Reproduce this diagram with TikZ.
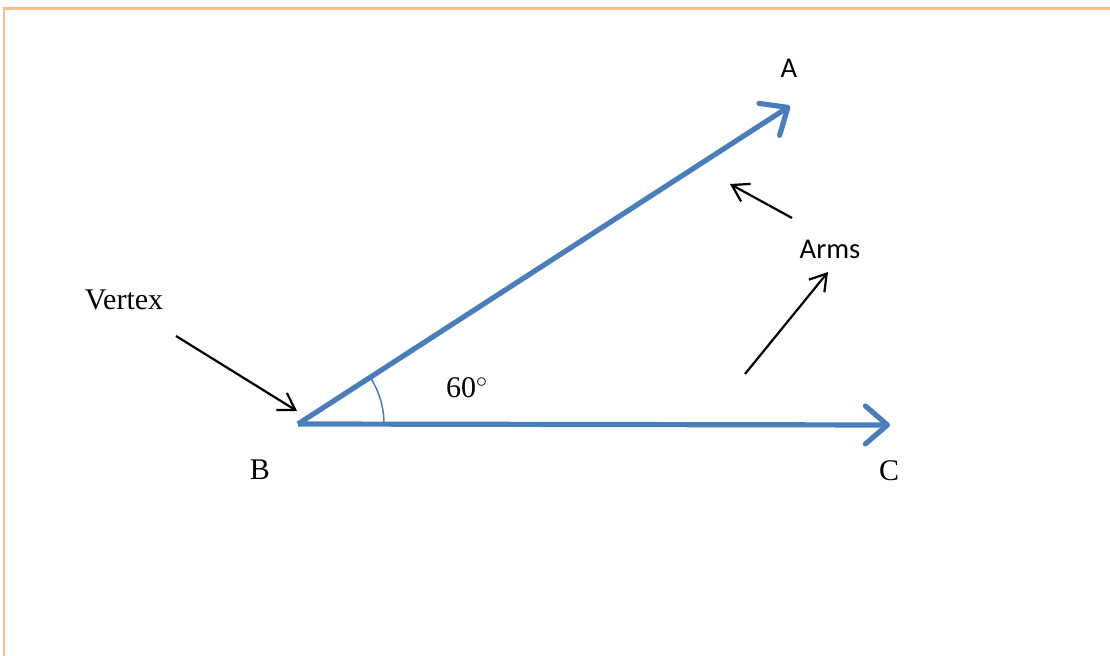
\documentclass[tikz,border=0pt]{standalone}
\usepackage{fontspec}
\setmainfont{Liberation Serif}
\newfontfamily\calibri{Carlito}
\usepackage{xcolor}
\usepackage{tikz}
\usetikzlibrary{arrows.meta}
\definecolor{armblue}{RGB}{74,126,187}
\definecolor{frameorange}{RGB}{249,190,142}

\begin{document}
\begin{tikzpicture}[x=0.5pt,y=-0.5pt,
  arm/.style={armblue, line width=2.6pt, -{Straight Barb[length=11pt,width=19pt,line cap=round,line join=round]}},
  pointer/.style={black, line width=1.1pt, -{Straight Barb[length=8pt,width=10pt]}},
  serif/.style={font=\fontsize{15}{18}\selectfont, inner sep=0pt},
  sans/.style={font=\calibri\fontsize{14.3}{17}\selectfont, inner sep=0pt}
]
\useasboundingbox (0,0) rectangle (1110,656);
\draw[frameorange, line width=1.3pt] (4,656) -- (4,8.5) -- (1110,8.5);

% the angle and its arms
\coordinate (B) at (298,424);
\coordinate (tipA) at (790,106);
\coordinate (tipC) at (890,425);
\draw[arm] (B) -- (tipA);
\draw[arm] (B) -- (tipC);
\draw[armblue, line width=0.75pt] (B) ++(86,0) arc[start angle=0, end angle=-32, radius=86];

% labels
\node[sans] (labA) at (789,68) {A};
\node[serif] (labB) at (260,470) {B};
\node[serif] (labC) at (889,471) {C};
\node[serif] (angle) at (467,388) {60$^{\circ}$};
\node[serif] (vertex) at (124,300) {Vertex};
\node[sans] (arms) at (830,249) {Arms};

% pointers
\coordinate (vtail) at (176,336);
\coordinate (vhead) at (297,411);
\coordinate (atail) at (792,218);
\coordinate (ahead) at (730,184);
\coordinate (ctail) at (745,374);
\coordinate (chead) at (828,272);
\foreach \tail/\head in {vtail/vhead,atail/ahead,ctail/chead}{
  \draw[pointer] (\tail) -- (\head);
}
\end{tikzpicture}
\end{document}
